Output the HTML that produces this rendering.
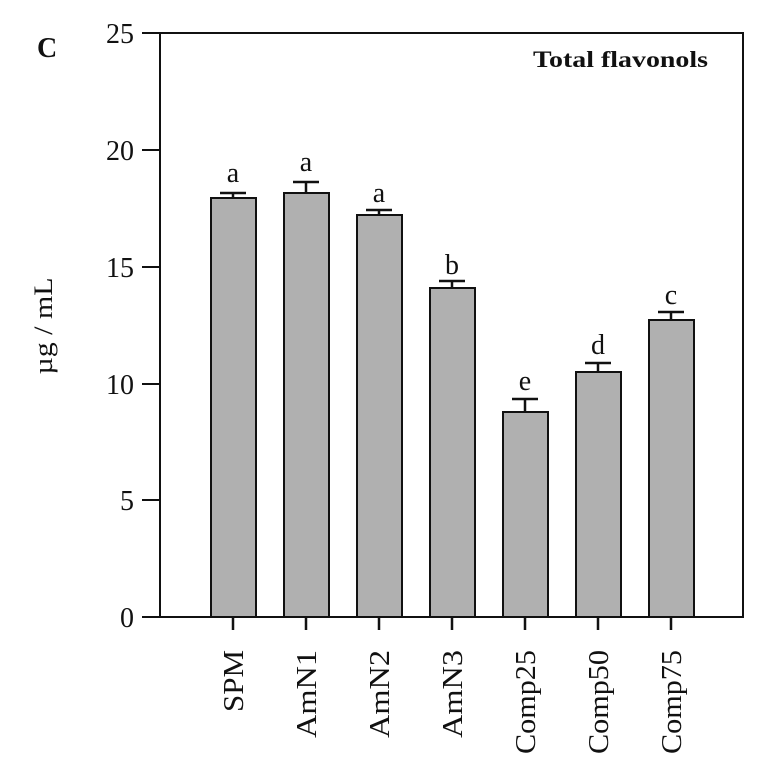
<!DOCTYPE html>
<html><head><meta charset="utf-8"><style>body{margin:0;background:#fff}svg{display:block}</style></head><body>
<svg width="771" height="760" xmlns="http://www.w3.org/2000/svg" font-family="Liberation Serif, serif" fill="#111">
<rect x="160" y="33" width="583" height="584" fill="none" stroke="#111" stroke-width="2"/>
<g stroke="#111" stroke-width="2">
<line x1="142" y1="33" x2="160" y2="33"/><line x1="142" y1="150" x2="160" y2="150"/><line x1="142" y1="267" x2="160" y2="267"/><line x1="142" y1="384" x2="160" y2="384"/><line x1="142" y1="500" x2="160" y2="500"/><line x1="142" y1="617" x2="160" y2="617"/>
</g>
<g font-size="28" text-anchor="end">
<text x="134" y="43">25</text><text x="134" y="160">20</text><text x="134" y="277">15</text><text x="134" y="394">10</text><text x="134" y="510">5</text><text x="134" y="627">0</text>
</g>
<g fill="#b0b0b0" stroke="#111" stroke-width="2">
<rect x="211" y="198" width="45" height="419"/>
<rect x="284" y="193" width="45" height="424"/>
<rect x="357" y="215" width="45" height="402"/>
<rect x="430" y="288" width="45" height="329"/>
<rect x="503" y="412" width="45" height="205"/>
<rect x="576" y="372" width="45" height="245"/>
<rect x="649" y="320" width="45" height="297"/>
</g>
<g stroke="#111" stroke-width="2.5">
<path d="M233 198V193M220 193H246"/>
<path d="M306 193V182M293 182H319"/>
<path d="M379 215V210M366 210H392"/>
<path d="M452 288V281M439 281H465"/>
<path d="M525 412V399M512 399H538"/>
<path d="M598 372V363M585 363H611"/>
<path d="M671 320V312M658 312H684"/>
<path d="M233 617V630M306 617V630M379 617V630M452 617V630M525 617V630M598 617V630M671 617V630"/>
</g>
<g font-size="28" text-anchor="middle">
<text x="233" y="182">a</text><text x="306" y="171">a</text><text x="379" y="202">a</text><text x="452" y="274">b</text><text x="525" y="390">e</text><text x="598" y="354">d</text><text x="671" y="304">c</text>
</g>
<g font-size="28" text-anchor="end">
<text transform="translate(243,650) rotate(-90)" textLength="62" lengthAdjust="spacingAndGlyphs">SPM</text>
<text transform="translate(316,650) rotate(-90)" textLength="88" lengthAdjust="spacingAndGlyphs">AmN1</text>
<text transform="translate(389,650) rotate(-90)" textLength="88" lengthAdjust="spacingAndGlyphs">AmN2</text>
<text transform="translate(462,650) rotate(-90)" textLength="88" lengthAdjust="spacingAndGlyphs">AmN3</text>
<text transform="translate(535,650) rotate(-90)" textLength="104" lengthAdjust="spacingAndGlyphs">Comp25</text>
<text transform="translate(608,650) rotate(-90)" textLength="104" lengthAdjust="spacingAndGlyphs">Comp50</text>
<text transform="translate(681,650) rotate(-90)" textLength="104" lengthAdjust="spacingAndGlyphs">Comp75</text>
</g>
<text x="533" y="67" font-size="23" font-weight="bold" textLength="175" lengthAdjust="spacingAndGlyphs">Total flavonols</text>
<text x="37" y="57" font-size="28" font-weight="bold">C</text>
<text transform="translate(52,326) rotate(-90)" font-size="26" text-anchor="middle" textLength="97" lengthAdjust="spacingAndGlyphs">µg / mL</text>
</svg>
</body></html>
